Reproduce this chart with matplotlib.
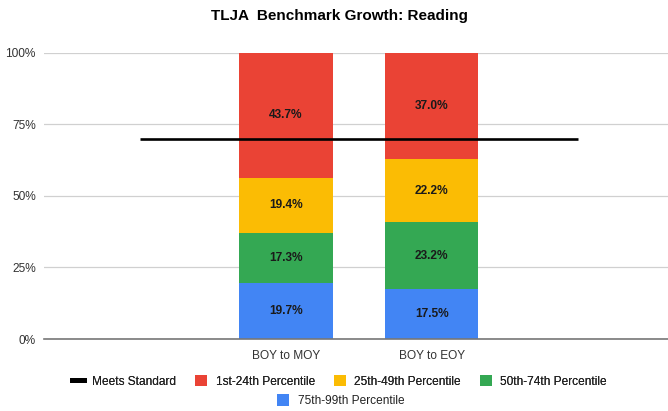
import numpy as np
import matplotlib
matplotlib.use("Agg")
import matplotlib.pyplot as plt
from matplotlib.patches import Patch
from matplotlib.lines import Line2D
from matplotlib.ticker import FuncFormatter

plt.rcParams['font.family'] = ['Liberation Sans', 'DejaVu Sans']

title = "TLJA  Benchmark Growth: Reading"
categories = ["", "BOY to MOY", "BOY to EOY", ""]
meets_standard = [70.0, 70.0, 70.0, 70.0]
p75_99 = [np.nan, 19.7, 17.5, np.nan]
p50_74 = [np.nan, 17.3, 23.2, np.nan]
p25_49 = [np.nan, 19.4, 22.2, np.nan]
p1_24 = [np.nan, 43.7, 37.0, np.nan]
series_names = ["1st-24th Percentile", "25th-49th Percentile",
                "50th-74th Percentile", "75th-99th Percentile"]
colors = {"1st-24th Percentile": "#EA4335", "25th-49th Percentile": "#FBBC04",
          "50th-74th Percentile": "#34A853", "75th-99th Percentile": "#4285F4"}

fig = plt.figure(figsize=(6.68, 4.11), dpi=100)
ax = fig.add_axes([0.066, 0.175, 0.934, 0.697])

x = np.arange(len(categories)) - 1
bottom = np.zeros(len(categories))
stack = [("75th-99th Percentile", p75_99), ("50th-74th Percentile", p50_74),
         ("25th-49th Percentile", p25_49), ("1st-24th Percentile", p1_24)]
for name, vals in stack:
    v = np.array(vals, dtype=float)
    mask = ~np.isnan(v)
    ax.bar(x[mask], v[mask], bottom=bottom[mask], width=0.64,
           color=colors[name], zorder=2, linewidth=0)
    for xi, vi, bi in zip(x[mask], v[mask], bottom[mask]):
        ax.text(xi, bi + vi / 2, f"{vi:.1f}%", ha='center', va='center',
                fontsize=8.6, fontweight='bold', color='#1a1a1a', zorder=4)
    bottom[mask] += v[mask]

ax.plot(x, meets_standard, color='black', linewidth=1.9, zorder=3,
        solid_capstyle='butt')

ax.set_xlim(-1.66, 2.62)
ax.set_ylim(0, 100)
ax.set_yticks([0, 25, 50, 75, 100])
ax.yaxis.set_major_formatter(FuncFormatter(lambda v, p: f"{v:.0f}%"))
ax.set_xticks(x[1:3])
ax.set_xticklabels(categories[1:3])
ax.tick_params(axis='both', length=0, labelsize=8.6, labelcolor='#333333')
ax.tick_params(axis='x', pad=8)
ax.tick_params(axis='y', pad=6)
ax.grid(axis='y', color='#d0d0d0', linewidth=0.9, zorder=0)
ax.set_axisbelow(True)
for s in ['top', 'right', 'left']:
    ax.spines[s].set_visible(False)
ax.spines['bottom'].set_color('#777777')
ax.spines['bottom'].set_linewidth(1.2)
ax.spines['bottom'].set_zorder(5)

fig.text(0.508, 0.962, title, ha='center', va='center', fontsize=11,
         fontweight='bold', color='#000000')

handles1 = [Line2D([0], [0], color='black', linewidth=3.5)]
labels1 = ["Meets Standard"]
for name in series_names[:3]:
    handles1.append(Patch(facecolor=colors[name], edgecolor='none'))
    labels1.append(name)
leg1 = fig.legend(handles1, labels1, loc='center', bbox_to_anchor=(0.508, 0.072),
                  ncol=4, frameon=False, fontsize=8.6, handlelength=1.0,
                  handleheight=1.1, handletextpad=0.7, columnspacing=1.6)
for t in leg1.get_texts():
    t.set_color('#222222')
leg2 = fig.legend([Patch(facecolor=colors[series_names[3]], edgecolor='none')],
                  [series_names[3]], loc='center', bbox_to_anchor=(0.51, 0.025),
                  ncol=1, frameon=False, fontsize=8.6, handlelength=1.0,
                  handleheight=1.1, handletextpad=0.7)
for t in leg2.get_texts():
    t.set_color('#222222')
fig.add_artist(leg1)

fig.savefig("out.png", dpi=100)
